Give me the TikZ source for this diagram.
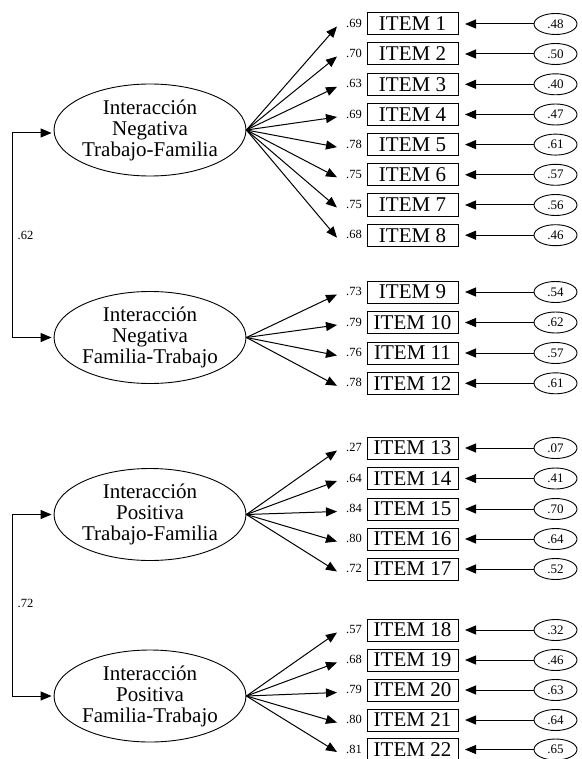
\documentclass[tikz,border=0pt]{standalone}
\usepackage{fontspec}
\setmainfont{Liberation Serif}
\usetikzlibrary{shapes.geometric,arrows.meta,positioning,calc}
\begin{document}
\begin{tikzpicture}[x=1pt,y=-1pt,
  factor/.style={draw, ellipse, line width=0.9pt, minimum width=181pt, minimum height=92pt,
    inner sep=0pt, align=center, font=\fontsize{21}{21}\selectfont},
  itembox/.style={draw, rectangle, line width=1pt, minimum width=91pt, minimum height=22pt,
    inner sep=0pt, font=\fontsize{21}{21}\selectfont},
  errell/.style={draw, ellipse, line width=0.9pt, minimum width=43pt, minimum height=21pt,
    inner sep=0pt, font=\fontsize{13}{13}\selectfont},
  loadlab/.style={inner sep=0pt, anchor=east, font=\fontsize{12.5}{12.5}\selectfont},
  corrlab/.style={inner sep=0pt, font=\fontsize{12.5}{12.5}\selectfont},
  arr/.style={line width=1pt, -{Triangle[length=11pt,width=9pt]}},
  biarr/.style={line width=1pt, {Triangle[length=11pt,width=9pt]}-{Triangle[length=11pt,width=9pt]}}
]
\useasboundingbox[fill=white] (0,0) rectangle (581,759);

\node[factor] (f1) at (150,130) {Interacción\\Negativa\\Trabajo-Familia};
\node[factor] (f2) at (150,337.5) {Interacción\\Negativa\\Familia-Trabajo};
\node[factor] (f3) at (150,514.5) {Interacción\\Positiva\\Trabajo-Familia};
\node[factor] (f4) at (150,696) {Interacción\\Positiva\\Familia-Trabajo};

\foreach \i/\y/\f/\l/\e in {
  1/24/f1/.69/.48, 2/54/f1/.70/.50, 3/84.3/f1/.63/.40, 4/114.5/f1/.69/.47,
  5/144.6/f1/.78/.61, 6/174.8/f1/.75/.57, 7/205/f1/.75/.56, 8/235.2/f1/.68/.46,
  9/292/f2/.73/.54, 10/322.5/f2/.79/.62, 11/353/f2/.76/.57, 12/383.3/f2/.78/.61,
  13/448/f3/.27/.07, 14/478.5/f3/.64/.41, 15/509/f3/.84/.70, 16/539/f3/.80/.64, 17/569/f3/.72/.52,
  18/630/f4/.57/.32, 19/660/f4/.68/.46, 20/690/f4/.79/.63, 21/720/f4/.80/.64, 22/749.5/f4/.81/.65}{
  \node[itembox] (item\i) at (412.5,\y) {ITEM \i};
  \node[errell] (e\i) at (555.5,\y) {\e};
  \node[loadlab] (l\i) at (362,\y-0.5) {\l};
  \coordinate (t\i) at (337,\y+2.5);
  \draw[arr] (\f.east) -- (t\i);
  \draw[arr, shorten >=6.5pt] (e\i) -- (item\i);
}

\coordinate (cl1) at (12,0);
\draw[biarr, shorten <=2pt, shorten >=2pt]
  ([yshift=-3pt]f1.west) -- ([yshift=-3pt]f1.west -| cl1) -- (f2.west -| cl1) -- (f2.west);
\node[corrlab] (r1) at (25.5,235) {.62};

\draw[biarr, shorten <=2pt, shorten >=2pt]
  (f3.west) -- (f3.west -| cl1) -- (f4.west -| cl1) -- (f4.west);
\node[corrlab] (r2) at (25.5,603) {.72};
\end{tikzpicture}
\end{document}
